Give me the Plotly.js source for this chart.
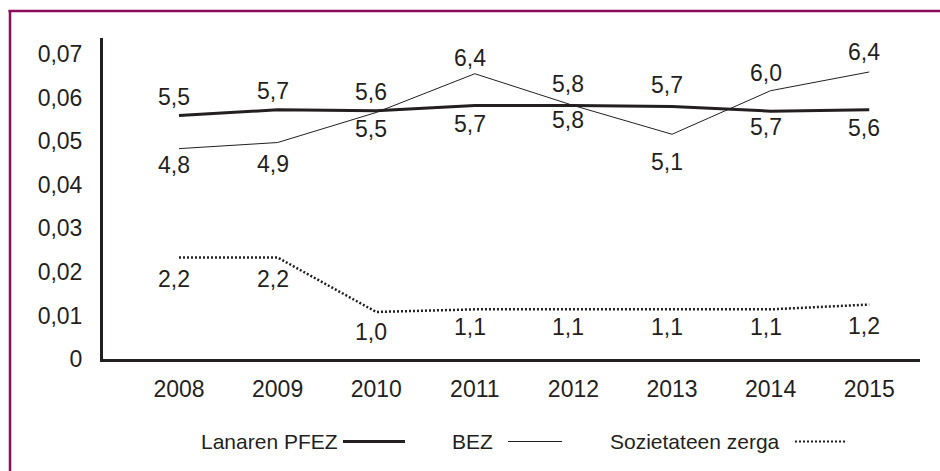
<!DOCTYPE html>
<html>
<head>
<meta charset="utf-8">
<script src="https://cdn.plot.ly/plotly-3.0.1.min.js"></script>
<style>
  html, body { margin: 0; padding: 0; background: #ffffff; }
  #chart { width: 940px; height: 471px; }
</style>
</head>
<body>
<div id="chart"></div>
<script>
// ---- data ----
const years = [2008, 2009, 2010, 2011, 2012, 2013, 2014, 2015];
const yearLabels = ['2008', '2009', '2010', '2011', '2012', '2013', '2014', '2015'];

const seriesNames = ['Lanaren PFEZ', 'BEZ', 'Sozietateen zerga'];

const pfezValues = [0.0559, 0.0572, 0.0570, 0.0582, 0.0582, 0.0580, 0.0569, 0.0572];
const bezValues  = [0.0483, 0.0497, 0.0566, 0.0655, 0.0582, 0.0516, 0.0616, 0.0659];
const sozValues  = [0.0233, 0.0233, 0.0108, 0.0114, 0.0114, 0.0114, 0.0114, 0.0125];

const pfezLabels = ['5,5', '5,7', '5,6', '5,7', '5,8', '5,7', '5,7', '5,6'];
const bezLabels  = ['4,8', '4,9', '5,5', '6,4', '5,8', '5,1', '6,0', '6,4'];
const sozLabels  = ['2,2', '2,2', '1,0', '1,1', '1,1', '1,1', '1,1', '1,2'];

const yTickVals  = [0, 0.01, 0.02, 0.03, 0.04, 0.05, 0.06, 0.07];
const yTickText  = ['0', '0,01', '0,02', '0,03', '0,04', '0,05', '0,06', '0,07'];

// ---- label placement (style, not data) ----
const pfezLabelShift = [19, 19, 19, -18, -14, 21, -16, -18];
const bezLabelShift  = [-16, -21, -17, 16, 22, -28, 18, 20];
const sozLabelShift  = [-21, -21, -20, -18, -18, -18, -18, -21];

// ---- styles ----
const ink = '#231f20';
const frameColor = '#8c0b5c';
const fontFamily = '"Liberation Sans", Arial, Helvetica, sans-serif';

const W = 940, H = 471;
const margin = { l: 103, r: 20, t: 38, b: 112 };
const plotW = W - margin.l - margin.r;
const plotH = H - margin.t - margin.b;
const px = x => (x - margin.l) / plotW;
const py = y => (H - margin.b - y) / plotH;

const traces = [
  { x: years, y: pfezValues, name: seriesNames[0], type: 'scatter', mode: 'lines',
    line: { color: ink, width: 3 }, hoverinfo: 'skip' },
  { x: years, y: bezValues, name: seriesNames[1], type: 'scatter', mode: 'lines',
    line: { color: ink, width: 1 }, hoverinfo: 'skip' },
  { x: years, y: sozValues, name: seriesNames[2], type: 'scatter', mode: 'lines',
    line: { color: ink, width: 2.5, dash: '2px,2px' }, hoverinfo: 'skip' }
];

const annotations = [];
function addLabels(vals, labels, shifts) {
  vals.forEach((v, i) => {
    annotations.push({
      x: years[i], y: v, xref: 'x', yref: 'y', text: labels[i],
      showarrow: false, xanchor: 'center', yanchor: 'middle',
      xshift: -5, yshift: shifts[i],
      font: { family: fontFamily, size: 23, color: ink }
    });
  });
}
addLabels(pfezValues, pfezLabels, pfezLabelShift);
addLabels(bezValues, bezLabels, bezLabelShift);
addLabels(sozValues, sozLabels, sozLabelShift);

// custom legend: text followed by line sample
const legendY = 441.5;
const legendItems = [
  { text: seriesNames[0], textRight: 340, x0: 343, x1: 405, width: 3, dash: 'solid' },
  { text: seriesNames[1], textRight: 495, x0: 508, x1: 562, width: 1, dash: 'solid' },
  { text: seriesNames[2], textRight: 782, x0: 795, x1: 847, width: 2, dash: '2px,2px' }
];
const shapes = [];
legendItems.forEach(it => {
  annotations.push({
    x: px(it.textRight), y: py(legendY), xref: 'paper', yref: 'paper',
    text: it.text, showarrow: false, xanchor: 'right', yanchor: 'middle',
    font: { family: fontFamily, size: 21, color: ink }
  });
  shapes.push({
    type: 'line', xref: 'paper', yref: 'paper',
    x0: px(it.x0), x1: px(it.x1), y0: py(legendY), y1: py(legendY),
    line: { color: ink, width: it.width, dash: it.dash }
  });
});

// frame (top and left edges)
shapes.push({ type: 'line', xref: 'paper', yref: 'paper',
  x0: px(8.5), x1: px(945), y0: py(11), y1: py(11),
  line: { color: frameColor, width: 2.5 } });
shapes.push({ type: 'line', xref: 'paper', yref: 'paper',
  x0: px(10), x1: px(10), y0: py(10), y1: py(480),
  line: { color: frameColor, width: 2.5 } });

const layout = {
  width: W, height: H,
  margin: margin,
  paper_bgcolor: '#ffffff', plot_bgcolor: '#ffffff',
  separators: ', ',
  showlegend: false,
  font: { family: fontFamily, size: 23, color: ink },
  xaxis: {
    range: [2007.229, 2015.515],
    tickvals: years, ticktext: yearLabels,
    showgrid: false, zeroline: false,
    showline: true, linecolor: ink, linewidth: 3,
    ticks: '', ticklabelstandoff: 7,
    tickfont: { family: fontFamily, size: 23, color: ink },
    fixedrange: true
  },
  yaxis: {
    range: [0, 0.0737],
    tickvals: yTickVals, ticktext: yTickText,
    showgrid: false, zeroline: false,
    showline: true, linecolor: ink, linewidth: 3,
    ticks: '', ticklabelstandoff: 13,
    tickfont: { family: fontFamily, size: 23, color: ink },
    fixedrange: true
  },
  annotations: annotations,
  shapes: shapes
};

Plotly.newPlot('chart', traces, layout, { displayModeBar: false, staticPlot: true });
</script>
</body>
</html>
